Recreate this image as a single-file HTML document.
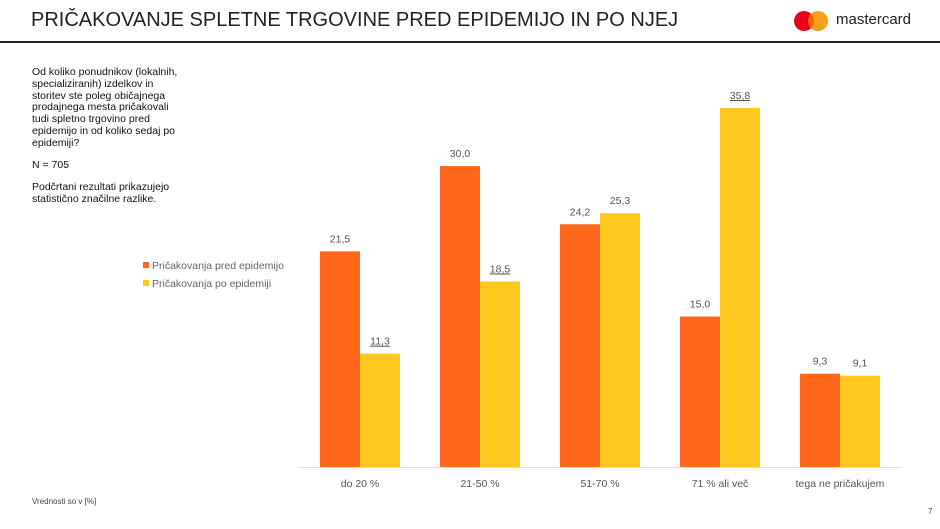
<!DOCTYPE html>
<html><head><meta charset="utf-8">
<style>
body{margin:0;width:940px;height:529px;background:#fff;font-family:"Liberation Sans",sans-serif;overflow:hidden;position:relative}
.t{position:absolute}
</style></head><body>
<div class="t" style="left:31px;top:9px;font-size:20px;color:#222">PRIČAKOVANJE SPLETNE TRGOVINE PRED EPIDEMIJO IN PO NJEJ</div>
<div class="t" style="left:0;top:41px;width:940px;height:2px;background:#222"></div>
<div class="t" style="left:793px;top:10px;width:40px;height:22px">
<svg width="40" height="22"><circle cx="11" cy="11" r="10" fill="#eb001b"/><circle cx="25" cy="11" r="10" fill="#f79e1b"/><path d="M18 4 A10 10 0 0 1 18 18 A10 10 0 0 1 18 4Z" fill="#ff5f00"/></svg></div>
<div class="t" style="left:836px;top:11px;font-size:15px;color:#222">mastercard</div>
<div class="t" style="left:32px;top:67px;font-size:10.5px;line-height:11.8px;color:#111;white-space:nowrap">Od koliko ponudnikov (lokalnih,<br>specializiranih) izdelkov in<br>storitev ste poleg običajnega<br>prodajnega mesta pričakovali<br>tudi spletno trgovino pred<br>epidemijo in od koliko sedaj po<br>epidemiji?<div style="height:10.5px"></div>N = 705<div style="height:10.5px"></div>Podčrtani rezultati prikazujejo<br>statistično značilne razlike.</div>
<div class="t" style="left:32px;top:497px;font-size:8px;color:#444">Vrednosti so v [%]</div>
<div class="t" style="left:928px;top:507px;font-size:8px;color:#444">7</div>
<svg id="chart" class="t" style="left:0;top:0" width="940" height="529"></svg>
<script>
const categories=["do 20 %","21-50 %","51-70 %","71 % ali več","tega ne pričakujem"];
const seriesPred=[21.5,30.0,24.2,15.0,9.3];
const seriesPo=[11.3,18.5,25.3,35.8,9.1];
const underlinedPred=[false,false,false,false,false];
const underlinedPo=[true,true,false,true,false];
const seriesNames=["Pričakovanja pred epidemijo","Pričakovanja po epidemiji"];
const colors=["#ff671b","#ffc820"];
const svg=document.getElementById('chart');
const NS="http://www.w3.org/2000/svg";
const baseY=467, unit=10.03, x0=300, groupW=120, barW=40;
function yScale(v){return baseY-v*unit;}
function xScale(i){return x0+20+i*groupW;}
function mk(t,a){const e=document.createElementNS(NS,t);for(const k in a)e.setAttribute(k,a[k]);svg.appendChild(e);return e;}
const ax=mk('line',{x1:x0,x2:x0+groupW*categories.length,y1:baseY+0.5,y2:baseY+0.5,stroke:'#ddd','stroke-width':1});


[seriesPred,seriesPo].forEach((s,si)=>{
  s.forEach((v,i)=>{
    const x=xScale(i)+si*barW, y=yScale(v);
    const r=mk('rect',{x:x,y:y,width:barW,height:baseY-y,fill:colors[si]});
    
    
    const lbl=v.toFixed(1).replace('.',',');
    const t=mk('text',{x:x+barW/2,y:y-9,'text-anchor':'middle','font-size':'10.5',fill:'#555','font-family':'Liberation Sans, sans-serif'});
    t.textContent=lbl;
    if((si?underlinedPo:underlinedPred)[i]) t.setAttribute('text-decoration','underline');
    
    
  });
});
categories.forEach((c,i)=>{
  const t=mk('text',{x:xScale(i)+barW,y:baseY+20,'text-anchor':'middle','font-size':'10.5',fill:'#555','font-family':'Liberation Sans, sans-serif'});
  t.textContent=c;
  
  
});
seriesNames.forEach((n,i)=>{
  const r=mk('rect',{x:143,y:262+i*18,width:6,height:6,fill:colors[i]});
  
  
  const t=mk('text',{x:152,y:269+i*18,'font-size':'10.5',fill:'#666','font-family':'Liberation Sans, sans-serif'});
  t.textContent=n;
  
  
});
</script>
</body></html>
